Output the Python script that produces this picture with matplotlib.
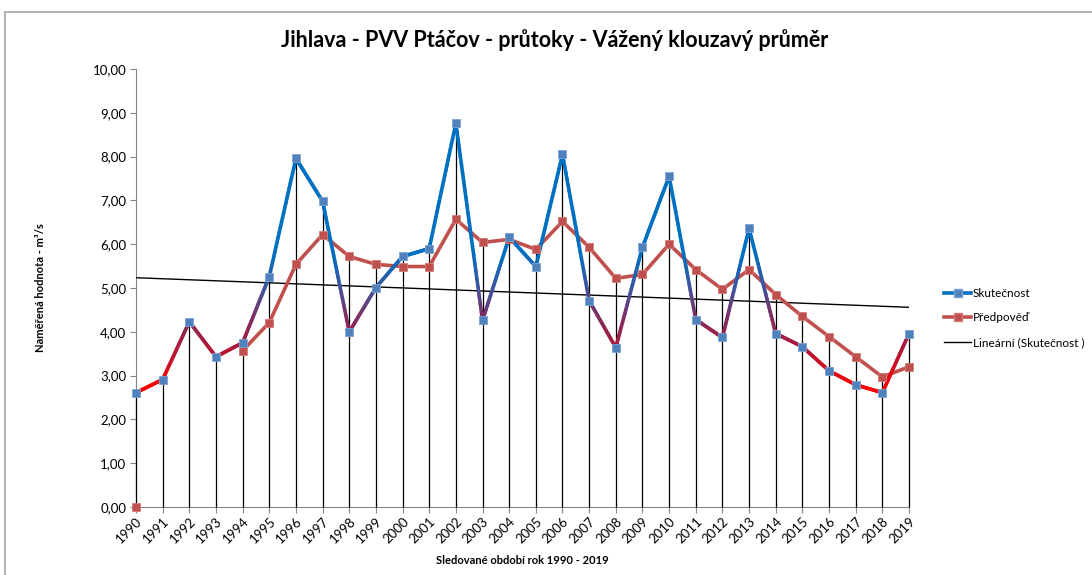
import numpy as np
import matplotlib as mpl
import matplotlib.pyplot as plt
from matplotlib.collections import LineCollection
from matplotlib.colors import LinearSegmentedColormap
from matplotlib.lines import Line2D
from matplotlib.patches import Rectangle

mpl.use("Agg")

plt.rcParams.update({"font.family": ["Lato", "DejaVu Sans"]})
plt.rcParams.update({"font.size": 9.5})

years = np.arange(1990, 2020)
skutecnost = [2.61, 2.91, 4.23, 3.43, 3.75, 5.26, 7.96, 6.98, 4.00, 5.01,
              5.72, 5.90, 8.76, 4.26, 6.16, 5.49, 8.05, 4.71, 3.64, 5.93,
              7.55, 4.28, 3.87, 6.36, 3.96, 3.66, 3.11, 2.79, 2.61, 3.96]
predpoved = [0.00, np.nan, np.nan, np.nan, 3.57, 4.21, 5.54, 6.22, 5.72, 5.54,
             5.49, 5.49, 6.57, 6.04, 6.11, 5.88, 6.52, 5.93, 5.22, 5.31,
             6.00, 5.42, 4.97, 5.42, 4.85, 4.35, 3.89, 3.43, 2.97, 3.20]

act = np.array(skutecnost)
pred = np.array(predpoved)

fig = plt.figure(figsize=(10.92, 5.75), dpi=100)
ax = fig.add_axes([136 / 1092, 68 / 575, 773 / 1092, 438 / 575])

# chart frame (Excel chart area border)
fig.patches.append(Rectangle((5 / 1092, -0.1), 1.2, 1.1 - 12 / 575,
                             transform=fig.transFigure, fill=False,
                             edgecolor="#A6A6A6", lw=1.2))

# drop lines
top = np.fmax(act, np.nan_to_num(pred))
ax.vlines(years, 0, top, color="black", lw=0.9, zorder=2.6, clip_on=False)

# trend line
k, q = np.polyfit(years, act, 1)
ax.plot([years[0], years[-1]], [k * years[0] + q, k * years[-1] + q],
        color="black", lw=1.0, zorder=2.7)

# prediction series
ax.plot(years, pred, color="#C0504D", lw=2.6, zorder=3)
ax.plot(years, pred, ls="none", marker="s", ms=5.5, color="#C0504D",
        mec="#D47A77", mew=0.6, zorder=5, clip_on=False)

# actual series with vertical colour gradient
cmap = LinearSegmentedColormap.from_list(
    "grad", [(0.0, "#FF0000"), (0.3, "#B01838"), (0.55, "#7A3068"),
             (0.75, "#3C55A0"), (1.0, "#0070C0")])
norm = plt.Normalize(2.7, 5.8)
segs, cols = [], []
for i in range(len(years) - 1):
    xs = np.linspace(years[i], years[i + 1], 25)
    ys = np.linspace(act[i], act[i + 1], 25)
    for j in range(24):
        segs.append([(xs[j], ys[j]), (xs[j + 1], ys[j + 1])])
        cols.append(cmap(norm((ys[j] + ys[j + 1]) / 2)))
lc = LineCollection(segs, colors=cols, lw=2.6, capstyle="round", zorder=4)
ax.add_collection(lc)
ax.plot(years, act, ls="none", marker="s", ms=5.5, color="#4F81BD",
        mec="#7FA3D0", mew=0.6, zorder=6, clip_on=False)

ax.set_xlim(1990, 2019)
ax.set_ylim(0, 10)
ax.set_xticks(years)
ax.set_xticklabels([str(y) for y in years], rotation=45, ha="right",
                   rotation_mode="anchor")
ax.set_yticks(np.arange(0, 11, 1))
ax.set_yticklabels([f"{v:.2f}".replace(".", ",") for v in range(11)])
ax.tick_params(axis="both", color="#868686", length=4, pad=3)
ax.tick_params(axis="x", pad=2)
for s in ["top", "right"]:
    ax.spines[s].set_visible(False)
for s in ["left", "bottom"]:
    ax.spines[s].set_color("#868686")

fig.text(0.508, 0.93, "Jihlava - PVV Ptáčov - průtoky - Vážený klouzavý průměr",
         ha="center", va="center", fontsize=15.5, fontweight="bold")
ax.set_xlabel("Sledované období rok 1990 - 2019", fontsize=8,
              fontweight="bold", labelpad=7)
fig.text(0.037, 0.50, "Naměřená hodnota - m³/s", rotation=90,
         ha="center", va="center", fontsize=8, fontweight="bold")

handles = [
    Line2D([], [], color="#0070C0", lw=2.6, marker="s", ms=5.5,
           mfc="#4F81BD", mec="#7FA3D0"),
    Line2D([], [], color="#C0504D", lw=2.6, marker="s", ms=5.5,
           mfc="#C0504D", mec="#D47A77"),
    Line2D([], [], color="black", lw=1.0),
]
fig.legend(handles, ["Skutečnost", "Předpověď", "Lineární (Skutečnost )"],
           loc="center left", bbox_to_anchor=(0.855, 0.447), frameon=False,
           fontsize=8.5, handlelength=2.3, handletextpad=0.1,
           labelspacing=1.15)

fig.savefig("out.png", dpi=100)
